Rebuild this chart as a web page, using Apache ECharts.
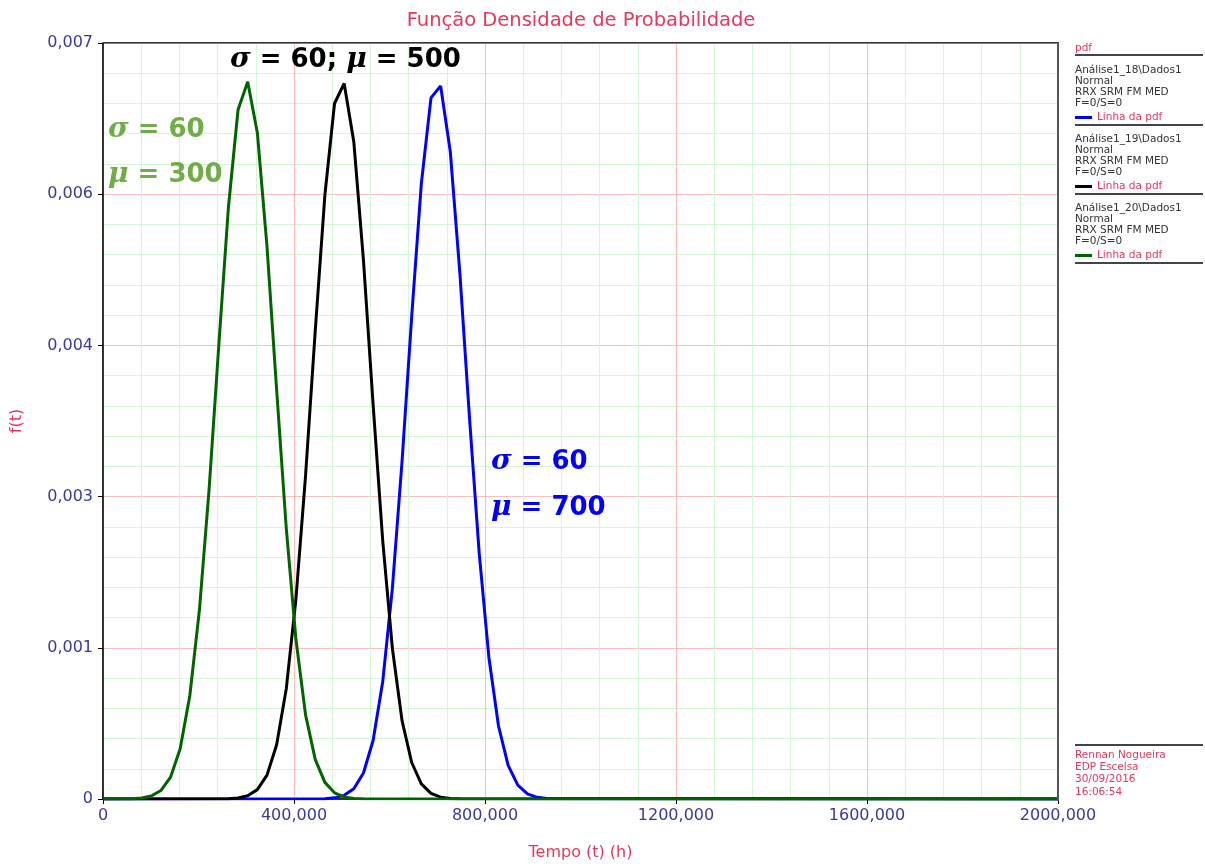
<!DOCTYPE html>
<html>
<head>
<meta charset="utf-8">
<style>
  html, body { margin: 0; padding: 0; background: #fff; }
  #chart { width: 1205px; height: 866px; }
</style>
<script src="https://cdn.jsdelivr.net/npm/echarts@6/dist/echarts.min.js"></script>
</head>
<body>
<div id="chart"></div>
<script>
// Probability density curves, normal distribution, sigma = 60
const tempoVerde = [0, 60.61, 80.81, 101.01, 121.21, 141.41, 161.62, 181.82, 202.02, 222.22, 242.42, 262.63, 282.83, 303.03, 323.23, 343.43, 363.64, 383.84, 404.04, 424.24, 444.44, 464.65, 484.85, 505.05, 525.25, 545.45, 2000];
const pdfVerde = [0, 0.0000023, 0.0000084, 0.0000272, 0.0000785, 0.000202, 0.000465, 0.000956, 0.001753, 0.002870, 0.004196, 0.005477, 0.006382, 0.006641, 0.006169, 0.005116, 0.003789, 0.002505, 0.001479, 0.000779, 0.000367, 0.000154, 0.0000578, 0.0000193, 0.0000058, 0.0000015, 0];

const tempoPreto = [0, 262.63, 282.83, 303.03, 323.23, 343.43, 363.64, 383.84, 404.04, 424.24, 444.44, 464.65, 484.85, 505.05, 525.25, 545.45, 565.66, 585.86, 606.06, 626.26, 646.46, 666.67, 686.87, 707.07, 727.27, 747.47, 2000];
const pdfPreto = [0, 0.0000027, 0.0000095, 0.0000304, 0.0000867, 0.000221, 0.000503, 0.001021, 0.001851, 0.002996, 0.004331, 0.005590, 0.006440, 0.006626, 0.006086, 0.004990, 0.003654, 0.002388, 0.001394, 0.000726, 0.000338, 0.000140, 0.0000520, 0.0000172, 0.0000051, 0.0000013, 0];

const tempoAzul = [0, 464.65, 484.85, 505.05, 525.25, 545.45, 565.66, 585.86, 606.06, 626.26, 646.46, 666.67, 686.87, 707.07, 727.27, 747.47, 767.68, 787.88, 808.08, 828.28, 848.48, 868.69, 888.89, 909.09, 929.29, 2000];
const pdfAzul = [0, 0.0000030, 0.0000107, 0.0000339, 0.0000957, 0.000241, 0.000542, 0.001089, 0.001952, 0.003125, 0.004466, 0.005698, 0.006492, 0.006603, 0.005996, 0.004862, 0.003520, 0.002275, 0.001313, 0.000676, 0.000311, 0.000128, 0.0000469, 0.0000153, 0.0000045, 0];

const legendBlocks = [
  { nome: 'Análise1_18\\Dados1', cor: '#0000ff' },
  { nome: 'Análise1_19\\Dados1', cor: '#000000' },
  { nome: 'Análise1_20\\Dados1', cor: '#006400' }
];
const rodape = ['Rennan Nogueira', 'EDP Escelsa', '30/09/2016', '16:06:54'];

const RED = '#e8375a';
const AXIS_BLUE = '#3a3a9e';
const FONT = '"DejaVu Sans", Verdana, sans-serif';

function pares(xs, ys) { return xs.map((x, i) => [x, ys[i]]); }

function fmtY(v) { return v === 0 ? '0' : v.toFixed(3).replace('.', ','); }
function fmtX(v) { return v === 0 ? '0' : v.toFixed(3).replace('.', ','); }

// right-hand information panel
const panel = [];
const PX = 1075, PW = 128;
function divisor(y) {
  panel.push({ type: 'rect', shape: { x: PX, y: y, width: PW, height: 2 }, style: { fill: '#444' }, silent: true });
}
function texto(x, y, t, cor) {
  panel.push({ type: 'text', x: x, y: y, style: { text: t, fill: cor, font: '10.5px ' + FONT, textVerticalAlign: 'middle' }, silent: true });
}
texto(PX, 48, 'pdf', RED);
divisor(54);
legendBlocks.forEach((b, i) => {
  const y0 = 70 + i * 69;
  texto(PX, y0, b.nome, '#333');
  texto(PX, y0 + 11, 'Normal', '#333');
  texto(PX, y0 + 22, 'RRX SRM FM MED', '#333');
  texto(PX, y0 + 33, 'F=0/S=0', '#333');
  panel.push({ type: 'rect', shape: { x: PX, y: y0 + 46, width: 17, height: 3 }, style: { fill: b.cor }, silent: true });
  texto(PX + 22, y0 + 47, 'Linha da pdf', RED);
  divisor(y0 + 54);
});
divisor(744);
rodape.forEach((t, i) => texto(PX, 755 + i * 12.3, t, RED));

// plot frame: top and right edges
const moldura = [
  { type: 'rect', shape: { x: 103, y: 42, width: 955, height: 1.5 }, style: { fill: '#333' }, silent: true, z: 50 },
  { type: 'rect', shape: { x: 1057, y: 42, width: 2, height: 759 }, style: { fill: '#555' }, silent: true, z: 50 }
];

// annotations on the curves
function nota(x, y, partes, cor) {
  return {
    type: 'text', x: x, y: y, silent: true, z: 100,
    style: {
      text: partes, fill: cor, textVerticalAlign: 'middle',
      rich: {
        g: { font: 'italic bold 28px "DejaVu Serif", serif', fill: cor },
        n: { font: 'bold 26px "DejaVu Sans", sans-serif', fill: cor }
      }
    }
  };
}
const notas = [
  nota(230, 60, '{g|σ}{n| = 60; }{g|μ}{n| = 500}', '#000'),
  nota(108, 130, '{g|σ}{n| = 60}', '#70ad47'),
  nota(108, 175, '{g|μ}{n| = 300}', '#70ad47'),
  nota(491, 462, '{g|σ}{n| = 60}', '#0000ff'),
  nota(491, 508, '{g|μ}{n| = 700}', '#0000ff')
];

const chart = echarts.init(document.getElementById('chart'), null, { renderer: 'canvas' });
chart.setOption({
  animation: false,
  backgroundColor: '#fff',
  title: {
    text: 'Função Densidade de Probabilidade',
    left: 576, top: 6, textAlign: 'center',
    textStyle: { color: RED, fontSize: 19.5, fontWeight: 'normal', fontFamily: FONT }
  },
  grid: { left: 103, right: 147, top: 43, bottom: 65, show: true, borderColor: '#555', borderWidth: 1 },
  xAxis: {
    type: 'value', min: 0, max: 2000, interval: 400,
    name: 'Tempo (t) (h)', nameLocation: 'middle', nameGap: 46,
    nameTextStyle: { color: RED, fontSize: 16, fontFamily: FONT },
    axisLine: { show: true, onZero: false, lineStyle: { color: '#000', width: 1.5 } },
    axisTick: { show: true, length: 5, lineStyle: { color: '#000' } },
    axisLabel: { color: AXIS_BLUE, fontSize: 16, fontFamily: FONT, formatter: fmtX, margin: 9 },
    splitLine: { show: true, lineStyle: { color: '#ffbdbd', width: 1 } },
    minorTick: { show: false, splitNumber: 5 },
    minorSplitLine: { show: true, lineStyle: { color: '#d4f7d4', width: 1 } }
  },
  yAxis: {
    type: 'value', min: 0, max: 0.007, interval: 0.0014,
    name: 'f(t)', nameLocation: 'middle', nameGap: 78, nameRotate: 90,
    nameTextStyle: { color: RED, fontSize: 16, fontFamily: FONT },
    axisLine: { show: true, onZero: false, lineStyle: { color: '#000', width: 1.5 } },
    axisTick: { show: true, length: 5, lineStyle: { color: '#000' } },
    axisLabel: { color: AXIS_BLUE, fontSize: 16, fontFamily: FONT, formatter: fmtY, margin: 10 },
    splitLine: { show: true, lineStyle: { color: '#ffbdbd', width: 1 } },
    minorTick: { show: false, splitNumber: 5 },
    minorSplitLine: { show: true, lineStyle: { color: '#d4f7d4', width: 1 } }
  },
  series: [
    { name: 'Análise1_18', type: 'line', data: pares(tempoAzul, pdfAzul), showSymbol: false, z: 2,
      lineStyle: { color: '#0000ff', width: 3 } },
    { name: 'Análise1_19', type: 'line', data: pares(tempoPreto, pdfPreto), showSymbol: false, z: 3,
      lineStyle: { color: '#000000', width: 3 } },
    { name: 'Análise1_20', type: 'line', data: pares(tempoVerde, pdfVerde), showSymbol: false, z: 4,
      lineStyle: { color: '#006400', width: 3 } }
  ],
  graphic: panel.concat(moldura, notas)
});
</script>
</body>
</html>
